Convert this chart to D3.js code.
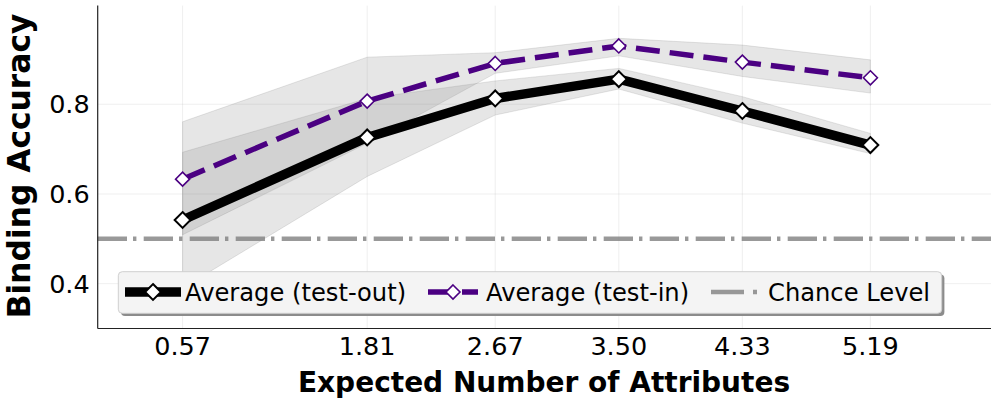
<!DOCTYPE html>
<html>
<head>
<meta charset="utf-8">
<script src="https://cdn.jsdelivr.net/npm/d3@7"></script>
<style>
  body { margin: 0; background: #fff; }
  text { font-family: "DejaVu Sans", sans-serif; }
</style>
</head>
<body>
<div id="line_chart"></div>
<script>
// --------------------------------------
//  Data
// --------------------------------------

const xValues = [0.57, 1.81, 2.67, 3.50, 4.33, 5.19];
const xTickLabels = ["0.57", "1.81", "2.67", "3.50", "4.33", "5.19"];
const yTicks = [0.4, 0.6, 0.8];

const outMean = [0.542, 0.726, 0.813, 0.856, 0.785, 0.709];
const outLow  = [0.390, 0.639, 0.776, 0.834, 0.758, 0.690];
const outHigh = [0.693, 0.813, 0.852, 0.880, 0.817, 0.735];

const inMean = [0.633, 0.807, 0.891, 0.930, 0.894, 0.859];
const inLow  = [0.509, 0.713, 0.869, 0.908, 0.862, 0.825];
const inHigh = [0.761, 0.905, 0.915, 0.947, 0.932, 0.899];

const chanceLevel = 0.5;
const legendLabels = ["Average (test-out)", "Average (test-in)", "Chance Level"];

// --------------------------------------
//  Canvas
// --------------------------------------

const width = 997, height = 406;
const margin = {top: 5.6, right: 6, bottom: 77.5, left: 97.7};
const innerwidth = width - margin.left - margin.right;
const innerheight = height - margin.top - margin.bottom;

const svg = d3.select("#line_chart")
  .append("svg")
  .attr("width", width)
  .attr("height", height);

const inner = svg.append("g")
  .attr("transform", `translate(${margin.left}, ${margin.top})`);

const x = d3.scaleLinear().domain([0, 6]).range([0, innerwidth]);
const y = d3.scaleLinear().domain([0.3, 1.02]).range([innerheight, 0]);

// grid
inner.selectAll(".gx").data(xValues).join("line")
  .attr("x1", d => x(d)).attr("x2", d => x(d))
  .attr("y1", 0).attr("y2", innerheight)
  .attr("stroke", "#b0b0b0").attr("stroke-opacity", 0.25).attr("stroke-width", 0.8);
inner.selectAll(".gy").data(yTicks).join("line")
  .attr("x1", 0).attr("x2", innerwidth)
  .attr("y1", d => y(d)).attr("y2", d => y(d))
  .attr("stroke", "#b0b0b0").attr("stroke-opacity", 0.25).attr("stroke-width", 0.8);

// --------------------------------------
//  Bands
// --------------------------------------

const band = d3.area()
  .x(d => x(d.x))
  .y0(d => y(d.lo))
  .y1(d => y(d.hi));

const bands = [
  xValues.map((v, i) => ({x: v, lo: outLow[i], hi: outHigh[i]})),
  xValues.map((v, i) => ({x: v, lo: inLow[i], hi: inHigh[i]}))
];

inner.selectAll(".band").data(bands).join("path")
  .attr("d", band)
  .attr("fill", "gray").attr("fill-opacity", 0.2)
  .attr("stroke", "gray").attr("stroke-opacity", 0.2).attr("stroke-width", 1);

// chance line
inner.append("line")
  .attr("x1", 0).attr("x2", innerwidth)
  .attr("y1", y(chanceLevel)).attr("y2", y(chanceLevel))
  .attr("stroke", "gray").attr("stroke-opacity", 0.8)
  .attr("stroke-width", 4.5)
  .attr("stroke-dasharray", "29.3,6,3.4,7.3");

// --------------------------------------
//  Lines
// --------------------------------------

const line = d3.line().x(d => x(d[0])).y(d => y(d[1]));
const outPts = xValues.map((v, i) => [v, outMean[i]]);
const inPts = xValues.map((v, i) => [v, inMean[i]]);

inner.append("path").datum(outPts)
  .attr("d", line).attr("fill", "none")
  .attr("stroke", "black").attr("stroke-width", 9.5)
  .attr("stroke-linejoin", "round");

inner.selectAll(".mout").data(outPts).join("path")
  .attr("transform", d => `translate(${x(d[0])}, ${y(d[1])})`)
  .attr("d", d3.symbol(d3.symbolDiamond2, 160))
  .attr("fill", "white").attr("stroke", "black").attr("stroke-width", 2);

inner.append("path").datum(inPts)
  .attr("d", line).attr("fill", "none")
  .attr("stroke", "#4b0082").attr("stroke-width", 5.5)
  .attr("stroke-dasharray", "24,10");

inner.selectAll(".min").data(inPts).join("path")
  .attr("transform", d => `translate(${x(d[0])}, ${y(d[1])})`)
  .attr("d", d3.symbol(d3.symbolDiamond2, 125))
  .attr("fill", "white").attr("stroke", "#4b0082").attr("stroke-width", 1.6);

// --------------------------------------
//  Axes
// --------------------------------------

inner.append("line")
  .attr("x1", 0).attr("x2", 0).attr("y1", 0).attr("y2", innerheight)
  .attr("stroke", "#222").attr("stroke-width", 1.2);
inner.append("line")
  .attr("x1", 0).attr("x2", innerwidth).attr("y1", innerheight).attr("y2", innerheight)
  .attr("stroke", "#222").attr("stroke-width", 1.2);

inner.selectAll(".xt").data(xValues).join("text")
  .attr("x", d => x(d)).attr("y", innerheight + 27)
  .attr("text-anchor", "middle").attr("font-size", 25.5)
  .text((d, i) => xTickLabels[i]);

inner.selectAll(".yt").data(yTicks).join("text")
  .attr("x", -8).attr("y", d => y(d)).attr("dy", "0.36em")
  .attr("text-anchor", "end").attr("font-size", 25.5)
  .text(d => d3.format(".1f")(d));

svg.append("text")
  .attr("x", 544).attr("y", 392)
  .attr("text-anchor", "middle").attr("font-size", 28).attr("font-weight", "bold")
  .text("Expected Number of Attributes");

svg.append("text")
  .attr("transform", "translate(30, 166) rotate(-90)")
  .attr("text-anchor", "middle").attr("font-size", 31.3).attr("font-weight", "bold")
  .text("Binding Accuracy");

// --------------------------------------
//  Legend
// --------------------------------------

const legend = svg.append("g");
legend.append("rect")
  .attr("x", 121).attr("y", 274.5).attr("width", 823.4).attr("height", 41.6)
  .attr("rx", 4).attr("fill", "#8c8c8c");
legend.append("rect")
  .attr("x", 118.3).attr("y", 271.7).attr("width", 823.4).attr("height", 41.6)
  .attr("rx", 4).attr("fill", "#f4f4f4").attr("stroke", "#cfcfcf").attr("stroke-width", 1);

const ly = 292;
legend.append("line").attr("x1", 125).attr("x2", 181).attr("y1", ly).attr("y2", ly)
  .attr("stroke", "black").attr("stroke-width", 9.5);
legend.append("path").attr("transform", `translate(153, ${ly})`)
  .attr("d", d3.symbol(d3.symbolDiamond2, 160))
  .attr("fill", "white").attr("stroke", "black").attr("stroke-width", 2);

legend.append("line").attr("x1", 428).attr("x2", 478).attr("y1", ly).attr("y2", ly)
  .attr("stroke", "#4b0082").attr("stroke-width", 5.5).attr("stroke-dasharray", "24,10");
legend.append("path").attr("transform", `translate(453, ${ly})`)
  .attr("d", d3.symbol(d3.symbolDiamond2, 125))
  .attr("fill", "white").attr("stroke", "#4b0082").attr("stroke-width", 1.6);

legend.append("line").attr("x1", 711).attr("x2", 759).attr("y1", ly).attr("y2", ly)
  .attr("stroke", "gray").attr("stroke-opacity", 0.8).attr("stroke-width", 4.5)
  .attr("stroke-dasharray", "33,9,4,7");

legend.selectAll(".lt").data(legendLabels).join("text")
  .attr("x", (d, i) => [185, 486, 768][i]).attr("y", ly).attr("dy", "0.36em")
  .attr("font-size", 24.2)
  .text(d => d);
</script>
</body>
</html>
